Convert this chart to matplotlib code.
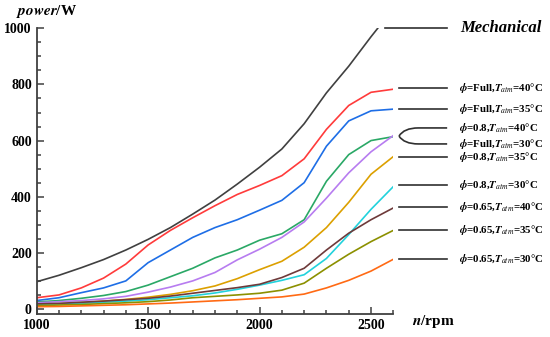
import numpy as np
import matplotlib
matplotlib.use("Agg")
import matplotlib.pyplot as plt
from matplotlib.path import Path
from matplotlib.patches import PathPatch
from matplotlib.transforms import blended_transform_factory
from matplotlib.ticker import MultipleLocator

plt.rcParams['font.family'] = ['Liberation Serif', 'DejaVu Serif']
plt.rcParams['mathtext.fontset'] = 'stix'

# ---- data ----
rpm = [1000, 1100, 1200, 1300, 1400, 1500, 1600, 1700, 1800, 1900, 2000,
       2100, 2200, 2300, 2400, 2500, 2600]
rpm_mech = [1000, 1100, 1200, 1300, 1400, 1500, 1600, 1700, 1800, 1900, 2000,
            2100, 2200, 2300, 2400, 2500, 2530]
mechanical = [97, 120, 147, 176, 210, 248, 290, 338, 388, 445, 505,
              570, 660, 770, 865, 970, 1000]
full_40 = [40, 50, 75, 110, 160, 228, 280, 325, 368, 408, 440, 475, 535, 640, 725, 772, 783]
full_35 = [30, 40, 58, 75, 100, 165, 210, 255, 290, 318, 352, 387, 450, 580, 670, 706, 712]
full_30 = [25, 30, 38, 48, 62, 85, 115, 145, 182, 210, 245, 268, 318, 455, 550, 600, 614]
p08_40 = [22, 26, 30, 36, 45, 60, 78, 100, 130, 175, 213, 255, 310, 395, 485, 560, 618]
p08_35 = [15, 18, 22, 28, 34, 42, 52, 65, 82, 108, 140, 170, 220, 290, 380, 480, 543]
p08_30 = [14, 17, 20, 24, 28, 33, 40, 47, 57, 70, 85, 102, 122, 180, 265, 355, 436]
p065_40 = [18, 20, 24, 28, 33, 38, 46, 56, 66, 76, 88, 112, 145, 210, 270, 318, 360]
p065_35 = [12, 14, 16, 19, 22, 26, 32, 40, 45, 50, 56, 67, 92, 145, 195, 240, 280]
p065_30 = [8, 9, 11, 13, 15, 18, 21, 25, 29, 33, 38, 43, 53, 75, 102, 135, 177]

series = [full_40, full_35, full_30, p08_40, p08_35, p08_30, p065_40, p065_35, p065_30]
colors = ['#ff3b3b', '#1e6ee6', '#2aa866', '#b77cf0', '#dca000',
          '#22d2dc', '#6e3a3a', '#8c9000', '#ff6a14']
labels = ['Full', 'Full', 'Full', '0.8', '0.8', '0.8', '0.65', '0.65', '0.65']
temps = ['40', '35', '30', '40', '35', '30', '40', '35', '30']
label_y = [788, 713, 588, 645, 542, 442, 364, 282, 178]

fig = plt.figure(figsize=(5.5, 3.37), dpi=100)
ax = fig.add_axes([0.0667, 0.0682, 0.6484, 0.8478])

ax.plot(rpm_mech, mechanical, color='#404040', lw=1.2)
for s, c in zip(series, colors):
    ax.plot(rpm, s, color=c, lw=1.2)

ax.set_xlim(1000, 2600)
ax.set_ylim(-18, 1000)
ax.spines['top'].set_visible(False)
ax.spines['right'].set_visible(False)
for sp in ('left', 'bottom'):
    ax.spines[sp].set_color('#404040')
    ax.spines[sp].set_linewidth(1.3)
ax.xaxis.set_major_locator(MultipleLocator(500))
ax.xaxis.set_minor_locator(MultipleLocator(100))
ax.yaxis.set_major_locator(MultipleLocator(200))
ax.yaxis.set_minor_locator(MultipleLocator(50))
ax.tick_params(which='both', direction='in', color='#404040', width=1.1)
ax.tick_params(which='major', length=5, labelsize=10)
ax.tick_params(which='minor', length=3)
for lab in ax.get_xticklabels() + ax.get_yticklabels():
    lab.set_fontweight('bold')

# axis titles
fig.text(0.03, 0.965, r'$\boldsymbol{power}$/W', fontsize=11, fontweight='bold',
         ha='left', va='center')
fig.text(0.75, 0.045, r'$\boldsymbol{n}$/rpm', fontsize=11, fontweight='bold',
         ha='left', va='center')

tr = blended_transform_factory(ax.transAxes, ax.transData)
lc = '#303030'
# mechanical label
ax.plot([0.977, 1.151], [1000, 1000], color=lc, lw=1.2, transform=tr, clip_on=False)
ax.text(1.187, 1000, 'Mechanical', transform=tr, fontsize=12, fontweight='bold',
        style='italic', va='center', ha='left')

for i, (lb, t, y) in enumerate(zip(labels, temps, label_y)):
    if i in (2, 3):
        start = 616
        verts = [(1.016, start), (1.03, y), (1.07, y), (1.151, y)]
        codes = [Path.MOVETO, Path.CURVE3, Path.CURVE3, Path.LINETO]
        ax.add_patch(PathPatch(Path(verts, codes), transform=tr, fc='none',
                               ec=lc, lw=1.2, clip_on=False))
    else:
        ax.plot([1.016, 1.151], [y, y], color=lc, lw=1.2, transform=tr, clip_on=False)
    txt = (r'$\boldsymbol{\phi}$=' + lb + r',$\boldsymbol{T}_{\mathit{atm}}$'
           + '=' + t + '°C')
    ax.text(1.183, y, txt, transform=tr, fontsize=7.8, fontweight='bold',
            va='center', ha='left')

fig.savefig('out.png', dpi=100)
